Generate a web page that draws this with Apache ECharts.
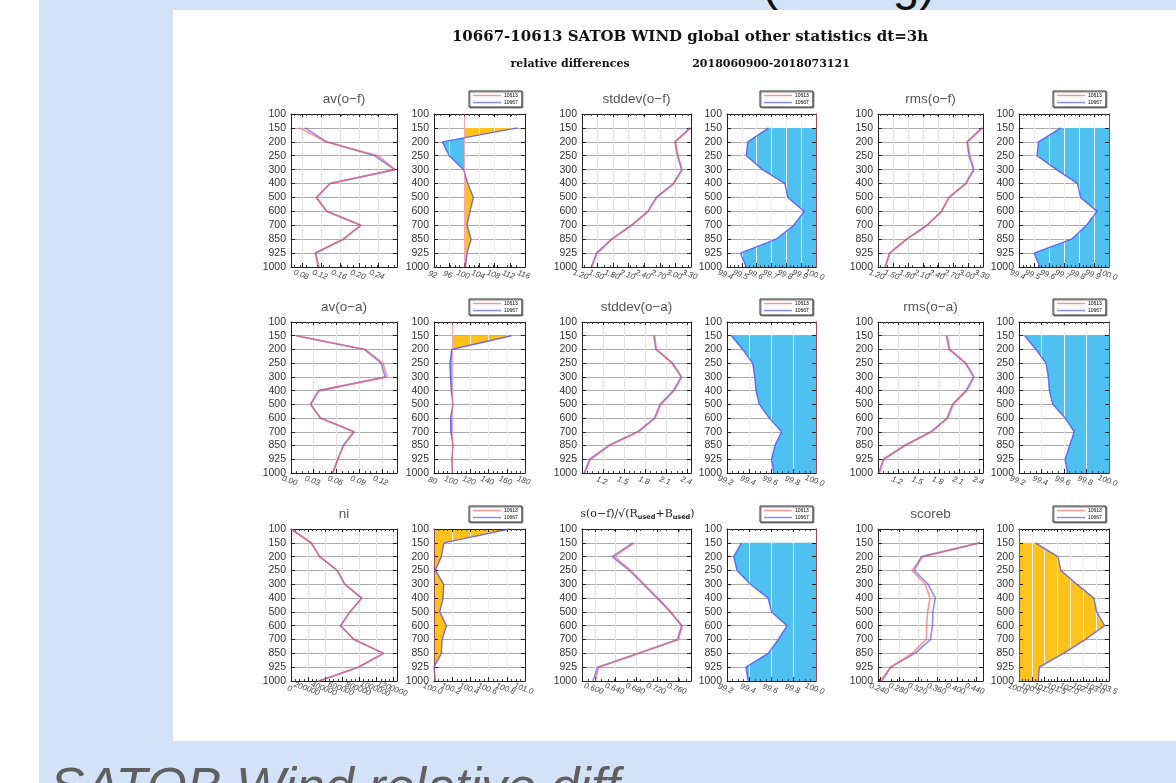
<!DOCTYPE html>
<html>
<head>
  <meta charset="UTF-8">
  <title>SATOB WIND relative differences</title>
  <style>
    html, body { margin: 0; padding: 0; background: #fff; }
    body { overflow: hidden; width: 1176px; height: 783px; }
    #band { position: absolute; left: 39px; top: 0; width: 1137px; height: 783px; background: #d3e2f6; }
    #paper { position: absolute; left: 173px; top: 10px; width: 1003px; height: 731px; background: #fff; }
    #topText { position: absolute; left: 762px; top: -44px; font: 48px "Liberation Sans", Arial, sans-serif; color: #111; white-space: nowrap; }
    #bottomText { position: absolute; left: 50px; top: 756px; font: italic 52px "Liberation Sans", Arial, sans-serif; color: #606060; white-space: nowrap; }
    #chart { position: absolute; left: 0; top: 0; width: 1176px; height: 783px; }
  </style>
</head>
<body>
  <div id="band"></div>
  <div id="paper"></div>
  <div id="topText">(testing)</div>
  <div id="bottomText">SATOB Wind relative diff</div>
  <div id="chart"></div>
  <script src="https://cdn.jsdelivr.net/npm/echarts@6/dist/echarts.min.js"></script>
  <script>
    var levels = ['100', '150', '200', '250', '300', '400', '500', '600', '700', '850', '925', '1000'];

    // row 1
    var avOF_10613 = [null, 0.074, 0.130, 0.240, 0.276, 0.138, 0.109, 0.131, 0.204, 0.166, 0.107, 0.114];
    var avOF_10667 = [null, 0.086, 0.131, 0.233, 0.275, 0.139, 0.110, 0.132, 0.203, 0.167, 0.108, 0.115];
    var avOF_rel = [null, 114.0, 94.2, 96.0, 99.8, 100.9, 102.4, 101.5, 100.7, 101.8, 100.7, 100.3];
    var sdOF_10613 = [null, 3.29, 3.00, 3.05, 3.13, 2.97, 2.64, 2.47, 2.16, 1.78, 1.49, 1.39];
    var sdOF_10667 = [null, 3.28, 2.99, 3.04, 3.12, 2.96, 2.63, 2.47, 2.15, 1.77, 1.48, 1.38];
    var sdOF_rel = [null, 99.68, 99.54, 99.53, 99.64, 99.79, 99.81, 99.92, 99.85, 99.73, 99.49, 99.53];
    var rmsOF_10613 = [null, 3.29, 2.99, 3.04, 3.12, 2.96, 2.62, 2.47, 2.18, 1.78, 1.44, 1.35];
    var rmsOF_10667 = [null, 3.28, 2.98, 3.02, 3.11, 2.95, 2.62, 2.47, 2.18, 1.77, 1.43, 1.34];
    var rmsOF_rel = [null, 99.68, 99.53, 99.52, 99.65, 99.79, 99.81, 99.92, 99.85, 99.75, 99.50, 99.54];

    // row 2
    var avOA_10613 = [null, 0.007, 0.098, 0.1215, 0.127, 0.0365, 0.0255, 0.0387, 0.0836, 0.0696, 0.0616, 0.055];
    var avOA_10667 = [null, 0.007, 0.097, 0.119, 0.1245, 0.037, 0.026, 0.039, 0.083, 0.069, 0.062, 0.0552];
    var avOA_rel = [null, 165, 99.5, 97.5, 98.0, 99.0, 100.8, 98.2, 98.5, 101.0, 99.6, 100.2];
    var sdOA_10613 = [null, 1.93, 1.96, 2.19, 2.32, 2.21, 2.02, 1.94, 1.70, 1.29, 1.02, 0.94];
    var sdOA_10667 = [null, 1.92, 1.95, 2.18, 2.31, 2.20, 2.01, 1.93, 1.69, 1.28, 1.01, 0.93];
    var sdOA_rel = [null, 99.24, 99.34, 99.43, 99.45, 99.46, 99.49, 99.58, 99.69, 99.63, 99.60, 99.62];
    var rmsOA_10613 = [null, 1.92, 1.96, 2.20, 2.32, 2.21, 2.01, 1.93, 1.69, 1.30, 0.99, 0.92];
    var rmsOA_10667 = [null, 1.91, 1.95, 2.19, 2.31, 2.20, 2.00, 1.92, 1.68, 1.29, 0.98, 0.91];
    var rmsOA_rel = [null, 99.25, 99.35, 99.44, 99.46, 99.47, 99.50, 99.61, 99.69, 99.65, 99.61, 99.63];

    // row 3
    var ni_10613 = [0, 236000, 335000, 539000, 630000, 827000, 689000, 579000, 736000, 1083000, 787000, 327000];
    var ni_10667 = [0, 236300, 335300, 539100, 630700, 827800, 689500, 580000, 736700, 1083900, 787000, 327100];
    var ni_rel = [100.83, 100.11, 100.08, 100.015, 100.107, 100.10, 100.063, 100.137, 100.089, 100.081, 100.0, 100.015];
    var sRB_10613 = [null, 0.676, 0.637, 0.669, 0.695, 0.721, 0.746, 0.768, 0.761, 0.685, 0.607, 0.601];
    var sRB_10667 = [null, 0.673, 0.633, 0.666, 0.693, 0.720, 0.745, 0.767, 0.759, 0.684, 0.605, 0.596];
    var sRB_rel = [null, 99.33, 99.26, 99.29, 99.41, 99.57, 99.60, 99.74, 99.66, 99.57, 99.37, 99.39];
    var scoreb_10613 = [null, 0.449, 0.329, 0.306, 0.334, 0.344, 0.339, 0.337, 0.336, 0.306, 0.261, 0.240];
    var scoreb_10667 = [null, 0.449, 0.326, 0.311, 0.340, 0.355, 0.350, 0.349, 0.345, 0.312, 0.262, 0.243];
    var scoreb_rel = [null, 100.64, 101.51, 101.63, 102.25, 102.91, 103.02, 103.33, 102.58, 101.73, 100.79, 100.75];

    // tick labels
    var ticksAvOF = [0.08, 0.12, 0.16, 0.20, 0.24];
    var ticksAvOFRel = [92, 96, 100, 104, 108, 112, 116];
    var ticksSdOF = [1.2, 1.5, 1.8, 2.1, 2.4, 2.7, 3.0, 3.3];
    var ticksRel94 = [99.4, 99.5, 99.6, 99.7, 99.8, 99.9, 100.0];
    var ticksAvOA = [0, 0.03, 0.06, 0.09, 0.12];
    var ticksAvOARel = [80, 100, 120, 140, 160, 180];
    var ticksSdOA = [1.2, 1.5, 1.8, 2.1, 2.4];
    var ticksRel92 = [99.2, 99.4, 99.6, 99.8, 100.0];
    var ticksNi = [0, 200000, 400000, 600000, 800000, 1000000, 1200000];
    var ticksNiRel = [100.0, 100.2, 100.4, 100.6, 100.8, 101.0];
    var ticksSRB = [0.6, 0.64, 0.68, 0.72, 0.76];
    var ticksScoreb = [0.24, 0.28, 0.32, 0.36, 0.40, 0.44];
    var ticksScorebRel = [100.0, 100.5, 101.0, 101.5, 102.0, 102.5, 103.0, 103.5];

    var colX = [[291, 397], [434, 525], [582, 691], [727, 816], [878, 983], [1019, 1109]];
    var rowY = [[114, 267], [322, 473], [529, 681]];

    var panels = [
      { row: 0, col: 0, title: 'av(o\u2212f)', red: avOF_10613, blue: avOF_10667, min: 0.056, max: 0.28, ticks: ticksAvOF, dec: 2 },
      { row: 0, col: 1, rel: avOF_rel, min: 92, max: 116, ticks: ticksAvOFRel, dec: 0 },
      { row: 0, col: 2, title: 'stddev(o\u2212f)', red: sdOF_10613, blue: sdOF_10667, min: 1.2, max: 3.3, ticks: ticksSdOF, dec: 2 },
      { row: 0, col: 3, rel: sdOF_rel, min: 99.4, max: 100, ticks: ticksRel94, dec: 1 },
      { row: 0, col: 4, title: 'rms(o\u2212f)', red: rmsOF_10613, blue: rmsOF_10667, min: 1.2, max: 3.3, ticks: ticksSdOF, dec: 2 },
      { row: 0, col: 5, rel: rmsOF_rel, min: 99.4, max: 100, ticks: ticksRel94, dec: 1 },
      { row: 1, col: 0, title: 'av(o\u2212a)', red: avOA_10613, blue: avOA_10667, min: 0, max: 0.14, ticks: ticksAvOA, dec: 2 },
      { row: 1, col: 1, rel: avOA_rel, min: 80, max: 180, ticks: ticksAvOARel, dec: 0 },
      { row: 1, col: 2, title: 'stddev(o\u2212a)', red: sdOA_10613, blue: sdOA_10667, min: 0.9, max: 2.45, ticks: ticksSdOA, dec: 1 },
      { row: 1, col: 3, rel: sdOA_rel, min: 99.2, max: 100, ticks: ticksRel92, dec: 1 },
      { row: 1, col: 4, title: 'rms(o\u2212a)', red: rmsOA_10613, blue: rmsOA_10667, min: 0.9, max: 2.45, ticks: ticksSdOA, dec: 1 },
      { row: 1, col: 5, rel: rmsOA_rel, min: 99.2, max: 100, ticks: ticksRel92, dec: 1 },
      { row: 2, col: 0, title: 'ni', red: ni_10613, blue: ni_10667, min: 0, max: 1240000, ticks: ticksNi, dec: 0 },
      { row: 2, col: 1, rel: ni_rel, min: 100, max: 101, ticks: ticksNiRel, dec: 1 },
      { row: 2, col: 2, title: 'sRB', red: sRB_10613, blue: sRB_10667, min: 0.575, max: 0.785, ticks: ticksSRB, dec: 3 },
      { row: 2, col: 3, rel: sRB_rel, min: 99.2, max: 100, ticks: ticksRel92, dec: 1 },
      { row: 2, col: 4, title: 'scoreb', red: scoreb_10613, blue: scoreb_10667, min: 0.235, max: 0.455, ticks: ticksScoreb, dec: 3 },
      { row: 2, col: 5, rel: scoreb_rel, min: 100, max: 103.5, ticks: ticksScorebRel, dec: 1 }
    ];

    var RED = 'rgba(255,85,85,0.62)';
    var BLUE = 'rgba(70,70,255,0.62)';
    var FILL_LOW = '#4fc1f1';
    var FILL_HIGH = '#fdc31a';
    var FONT = '"Liberation Sans", Arial, sans-serif';

    function pairs(values) {
      var out = [];
      values.forEach(function (v, k) {
        if (v !== null) out.push([v, levels[k]]);
      });
      return out;
    }

    // every other tick label, so that crowded labels are not dropped by echarts
    function everyOther(list, start) {
      return list.filter(function (v, k) { return k % 2 === start; });
    }

    // fill colour switches at 100 %: hard stop in a pixel-space gradient across the panel
    function splitFill(p, L, R) {
      var f = (100 - p.min) / (p.max - p.min);
      f = Math.max(0, Math.min(1, f));
      return {
        type: 'linear', x: L, y: 0, x2: R, y2: 0, global: true,
        colorStops: [
          { offset: 0, color: FILL_LOW }, { offset: f, color: FILL_LOW },
          { offset: f, color: FILL_HIGH }, { offset: 1, color: FILL_HIGH }
        ]
      };
    }

    var option = {
      animation: false,
      textStyle: { fontFamily: FONT },
      grid: [], xAxis: [], yAxis: [], series: [], legend: [], graphic: []
    };

    option.graphic.push({
      type: 'text', x: 690, y: 37, silent: true,
      style: { text: '10667-10613 SATOB WIND global other statistics dt=3h', align: 'center', verticalAlign: 'middle',
        font: 'bold 15px "DejaVu Serif", serif', fill: '#111' }
    });
    option.graphic.push({
      type: 'text', x: 570, y: 64, silent: true,
      style: { text: 'relative differences', align: 'center', verticalAlign: 'middle',
        font: 'bold 11px "DejaVu Serif", serif', fill: '#111' }
    });
    option.graphic.push({
      type: 'text', x: 771, y: 64, silent: true,
      style: { text: '2018060900-2018073121', align: 'center', verticalAlign: 'middle',
        font: 'bold 11px "DejaVu Serif", serif', fill: '#111' }
    });

    panels.forEach(function (p, i) {
      var L = colX[p.col][0], R = colX[p.col][1];
      var T = rowY[p.row][0], B = rowY[p.row][1];
      var isRel = !!p.rel;
      option.grid.push({ left: L, top: T, width: R - L, height: B - T, show: false });

      var fmt = function (v) { return v.toFixed(p.dec); };
      var labelBase = {
        formatter: fmt, rotate: -20, align: 'center', verticalAlign: 'top',
        hideOverlap: false, showMinLabel: true, showMaxLabel: true,
        fontSize: 8, color: '#444', margin: 4, fontStyle: 'italic'
      };
      option.xAxis.push({
        type: 'value', gridIndex: i, position: 'bottom', min: p.min, max: p.max, z: 3,
        axisLine: { show: true, onZero: false, lineStyle: { color: '#222', width: 1 } },
        axisTick: { show: true, inside: true, length: 4, customValues: p.ticks, lineStyle: { color: '#222' } },
        minorTick: { show: true, length: 2, splitNumber: 4, lineStyle: { color: '#444' } },
        axisLabel: Object.assign({ customValues: everyOther(p.ticks, 0) }, labelBase),
        splitLine: { show: true, lineStyle: { color: isRel ? '#f0f0f0' : '#e3e3e3', width: 1 } }
      });
      option.xAxis.push({
        type: 'value', gridIndex: i, position: 'bottom', min: p.min, max: p.max, z: 3,
        axisLine: { show: false }, axisTick: { show: false }, splitLine: { show: false },
        axisLabel: Object.assign({ customValues: everyOther(p.ticks, 1) }, labelBase)
      });
      option.xAxis.push({
        type: 'value', gridIndex: i, position: 'top', min: p.min, max: p.max, z: 3,
        axisLine: { show: true, onZero: false, lineStyle: { color: '#222', width: 1 } },
        axisTick: { show: true, inside: true, length: 3, customValues: p.ticks, lineStyle: { color: '#222' } },
        minorTick: { show: true, length: 2, splitNumber: 4, lineStyle: { color: '#444' } },
        axisLabel: { show: false },
        splitLine: { show: false }
      });
      option.yAxis.push({
        type: 'category', gridIndex: i, data: levels, inverse: true, boundaryGap: false, position: 'left', z: 3,
        axisLine: { show: true, onZero: false, lineStyle: { color: '#222', width: 1 } },
        axisTick: { show: true, inside: true, length: 4, interval: 0, lineStyle: { color: '#222' } },
        axisLabel: { fontSize: 10.5, color: '#333', margin: 5, interval: 0, hideOverlap: false },
        splitLine: { show: false }
      });
      option.yAxis.push({
        type: 'category', gridIndex: i, data: levels, inverse: true, boundaryGap: false, position: 'right', z: 3,
        axisLine: { show: true, onZero: false, lineStyle: { color: '#222', width: 1 } },
        axisTick: { show: true, inside: true, length: 4, interval: 0, lineStyle: { color: '#222' } },
        axisLabel: { show: false },
        splitLine: { show: false }
      });
      option.yAxis.push({
        type: 'category', gridIndex: i, data: levels, inverse: true, boundaryGap: false, position: 'left', z: 0,
        axisLine: { show: false }, axisTick: { show: false }, axisLabel: { show: false },
        splitLine: { show: true, interval: 0, lineStyle: { color: '#aaaaaa', width: 1.2 } }
      });
      var xi = 3 * i, yi = 3 * i;

      if (!isRel) {
        option.series.push({
          type: 'line', name: '10667', xAxisIndex: xi, yAxisIndex: yi, data: pairs(p.blue),
          showSymbol: false, silent: true, z: 3,
          lineStyle: { color: BLUE, width: 1.6 }, itemStyle: { color: BLUE }
        });
        option.series.push({
          type: 'line', name: '10613', xAxisIndex: xi, yAxisIndex: yi, data: pairs(p.red),
          showSymbol: false, silent: true, z: 3,
          lineStyle: { color: RED, width: 1.6 }, itemStyle: { color: RED }
        });
        var cx = (L + R) / 2, ty = T - 15;
        if (p.title === 'sRB') {
          option.graphic.push({
            type: 'text', x: cx + 1, y: ty, silent: true,
            style: {
              text: 's(o\u2212f)/\u221A(R{sub|used}+B{sub|used})', align: 'center', verticalAlign: 'middle',
              font: '11px "DejaVu Serif", serif', fill: '#222',
              rich: { sub: { fontSize: 6.5, fontWeight: 'bold', fontFamily: '"DejaVu Sans", sans-serif', padding: [6, 0, 0, 0], fill: '#222' } }
            }
          });
        } else {
          option.graphic.push({
            type: 'text', x: cx, y: ty, silent: true,
            style: { text: p.title, align: 'center', verticalAlign: 'middle', font: '13.5px ' + FONT, fill: '#555' }
          });
        }
      } else {
        option.series.push({
          type: 'line', name: 'rel' + i, xAxisIndex: xi, yAxisIndex: yi, data: pairs(p.rel),
          showSymbol: false, silent: true, z: 2,
          lineStyle: { width: 0 }, areaStyle: { origin: 100, opacity: 1, color: splitFill(p, L, R) },
          markLine: {
            silent: true, symbol: 'none', label: { show: false }, animation: false,
            lineStyle: { color: 'rgba(255,110,110,0.55)', width: 1, type: 'solid' },
            data: [{ xAxis: 100 }]
          }
        });
        option.series.push({
          type: 'line', name: '10667', xAxisIndex: xi, yAxisIndex: yi, data: pairs(p.rel),
          showSymbol: false, silent: true, z: 4,
          lineStyle: { color: 'rgba(70,70,255,0.75)', width: 1.4 }, itemStyle: { color: BLUE }
        });
        option.legend.push({
          data: ['10613', '10667'], orient: 'vertical', left: R - 56, top: T - 23,
          icon: 'rect', itemWidth: 28, itemHeight: 1.5, itemGap: 2, selectedMode: false,
          padding: [2, 4, 2, 4], borderColor: '#333', borderWidth: 1, backgroundColor: '#fff',
          shadowColor: '#888', shadowOffsetX: 1, shadowOffsetY: 1, shadowBlur: 0,
          textStyle: { fontSize: 5, color: '#000', padding: [0, 0, 0, -2] }
        });
      }
    });

    var chart = echarts.init(document.getElementById('chart'), null, { renderer: 'canvas' });
    chart.setOption(option);
  </script>
</body>
</html>
